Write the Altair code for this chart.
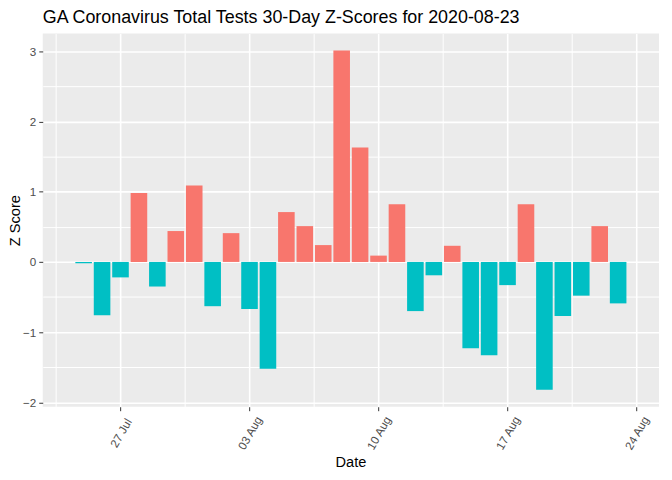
import altair as alt
import pandas as pd

dates = pd.date_range("2020-07-25", "2020-08-23").strftime("%Y-%m-%d").tolist()
z_scores = [-0.02, -0.76, -0.22, 0.98, -0.35, 0.44, 1.09, -0.63, 0.41, -0.67,
            -1.52, 0.71, 0.51, 0.24, 3.01, 1.63, 0.09, 0.82, -0.70, -0.19,
            0.23, -1.23, -1.33, -0.33, 0.82, -1.82, -0.77, -0.48, 0.51, -0.59]

major_y = [-2, -1, 0, 1, 2, 3]
minor_y = [-1.5, -0.5, 0.5, 1.5, 2.5]
major_x = ["2020-07-27", "2020-08-03", "2020-08-10", "2020-08-17", "2020-08-24"]
minor_x = ["2020-07-23T12:00", "2020-07-30T12:00", "2020-08-06T12:00",
           "2020-08-13T12:00", "2020-08-20T12:00"]

d = pd.to_datetime(pd.Series(dates))
df = pd.DataFrame({
    "date": dates,
    "start": (d - pd.Timedelta(hours=10.8)).dt.strftime("%Y-%m-%dT%H:%M:%S"),
    "end": (d + pd.Timedelta(hours=10.8)).dt.strftime("%Y-%m-%dT%H:%M:%S"),
    "z": z_scores,
})
df["sign"] = ["pos" if v > 0 else "neg" for v in z_scores]


def dt(s):
    t = pd.Timestamp(s)
    return alt.DateTime(year=t.year, month=t.month, date=t.day, hours=t.hour, minutes=t.minute)


x_domain = [dt("2020-07-23T01:12"), dt("2020-08-24T22:48")]
y_domain = [-2.0615, 3.2515]
FONT = "Liberation Sans"

xscale = alt.Scale(domain=x_domain, nice=False)
yscale = alt.Scale(domain=y_domain, nice=False, zero=False)

minor = alt.Chart(df).mark_bar(opacity=0).encode(
    x=alt.X("start:T", scale=xscale,
            axis=alt.Axis(orient="bottom", values=[dt(v) for v in minor_x], grid=True,
                          gridColor="white", gridWidth=1, labels=False, ticks=False,
                          domain=False, title=None)),
    y=alt.Y("z:Q", scale=yscale,
            axis=alt.Axis(orient="left", values=minor_y, grid=True, gridColor="white",
                          gridWidth=1, labels=False, ticks=False, domain=False, title=None)),
)

bars = alt.Chart(df).mark_bar().encode(
    x=alt.X("start:T", scale=xscale,
            axis=alt.Axis(orient="bottom", values=[dt(v) for v in major_x], format="%d %b",
                          grid=True, gridColor="white", gridWidth=1.6, domain=False,
                          tickColor="#333333", tickSize=4, labelAngle=-60,
                          labelAlign="center", labelBaseline="middle",
                          labelColor="#4D4D4D", labelFontSize=11.7, labelFont=FONT,
                          labelPadding=22, labelFlush=False, labelOverlap=False,
                          title="Date", titleFont=FONT, titleFontSize=14.7,
                          titleFontWeight="normal", titleColor="black",
                          titleX=310, titleY=60, titleAlign="center",
                          titleBaseline="alphabetic")),
    x2="end:T",
    y=alt.Y("z:Q", scale=yscale,
            axis=alt.Axis(orient="left", values=major_y, grid=True, gridColor="white",
                          gridWidth=1.6, domain=False, tickColor="#333333", tickSize=4,
                          labelColor="#4D4D4D", labelFontSize=11.7, labelFont=FONT,
                          labelPadding=3, title="Z Score", titleFont=FONT,
                          titleFontSize=14.7, titleFontWeight="normal", titleColor="black",
                          titleX=-23, titleY=188, titleAngle=-90, titleAlign="center",
                          titleBaseline="alphabetic")),
    y2=alt.datum(0),
    color=alt.Color("sign:N", scale=alt.Scale(domain=["pos", "neg"], range=["#F8766D", "#00BFC4"]),
                    legend=None),
)

chart = alt.layer(minor, bars).resolve_axis(x="independent", y="independent").properties(
    width=621,
    height=376,
    padding={"left": 35, "top": 24, "right": 5, "bottom": 64},
    autosize=alt.AutoSizeParams(type="none"),
    view=alt.ViewBackground(fill="#EBEBEB", fillOpacity=1, strokeWidth=0),
    title=alt.TitleParams("GA Coronavirus Total Tests 30-Day Z-Scores for 2020-08-23",
                          anchor="start", frame="group", font=FONT, fontSize=18,
                          fontWeight="normal", color="black", offset=7),
).configure_view(fill="#EBEBEB", strokeWidth=0).configure(background="white")

chart.save("out.html", embed_options={"renderer": "svg", "actions": False})
